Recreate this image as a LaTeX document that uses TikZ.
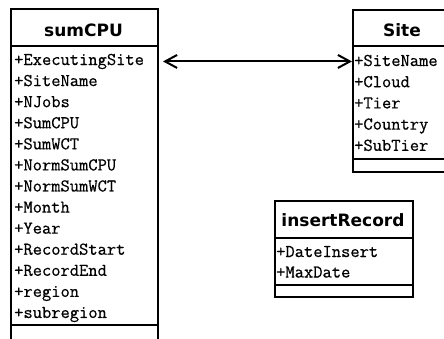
\documentclass[tikz,border=0pt]{standalone}
\usepackage{fontspec}
\newfontfamily\attrfont{Latin Modern Mono}[FakeBold=0.6]
\newfontfamily\headfont{DejaVu Sans}
\usetikzlibrary{arrows.meta, positioning}

\begin{document}
\begin{tikzpicture}[
    x=1pt, y=-1pt,
    classbox/.style = {draw, line width=2pt, inner sep=0pt, anchor=north west},
    classname/.style = {font=\headfont\bfseries\fontsize{17}{20}\selectfont, inner sep=0pt, anchor=base},
    attr/.style = {font=\attrfont\fontsize{18}{20}\selectfont, inner sep=0pt, anchor=base west},
    >={Straight Barb[length=12pt, width=13pt, line width=2pt]}]

    \useasboundingbox (0,0) rectangle (444,338);
    \clip (0,0) rectangle (444,338);

    % class boxes
    \node[classbox, minimum width=147pt, minimum height=345pt] (sumCPU) at (10,8) {};
    \node[classbox, minimum width=110pt, minimum height=162pt] (Site) at (352,9) {};
    \node[classbox, minimum width=138pt, minimum height=96pt] (insertRecord) at (274,200) {};

    % compartments
    \draw[line width=2pt] (10,46) -- (157,46) (10,325) -- (157,325);
    \draw[line width=2pt] (352,46) -- (462,46) (352,159) -- (462,159);
    \draw[line width=2pt] (274,238) -- (412,238) (274,285) -- (412,285);

    % names
    \node[classname] (sumCPUname) at (83.5,36.5) {sumCPU};
    \node[classname] (Sitename) at (402,36.5) {Site};
    \node[classname] (insertRecordname) at (343,226.5) {insertRecord};

    % attributes
    \foreach \a [count=\i] in {ExecutingSite, SiteName, NJobs, SumCPU, SumWCT, NormSumCPU, NormSumWCT, Month, Year, RecordStart, RecordEnd, region, subregion}
        \node[attr] (sumCPU-\i) at (14, {65+21.08*(\i-1)}) {+\a};
    \foreach \a [count=\i] in {SiteName, Cloud, Tier, Country, SubTier}
        \node[attr] (Site-\i) at (354, {66+21.2*(\i-1)}) {+\a};
    \foreach \a [count=\i] in {DateInsert, MaxDate}
        \node[attr] (insertRecord-\i) at (276, {257+20.5*(\i-1)}) {+\a};

    \draw[<->, line width=2pt, shorten <=4pt] (sumCPU.east |- sumCPU-1) -- (Site.west |- sumCPU-1);
\end{tikzpicture}
\end{document}
